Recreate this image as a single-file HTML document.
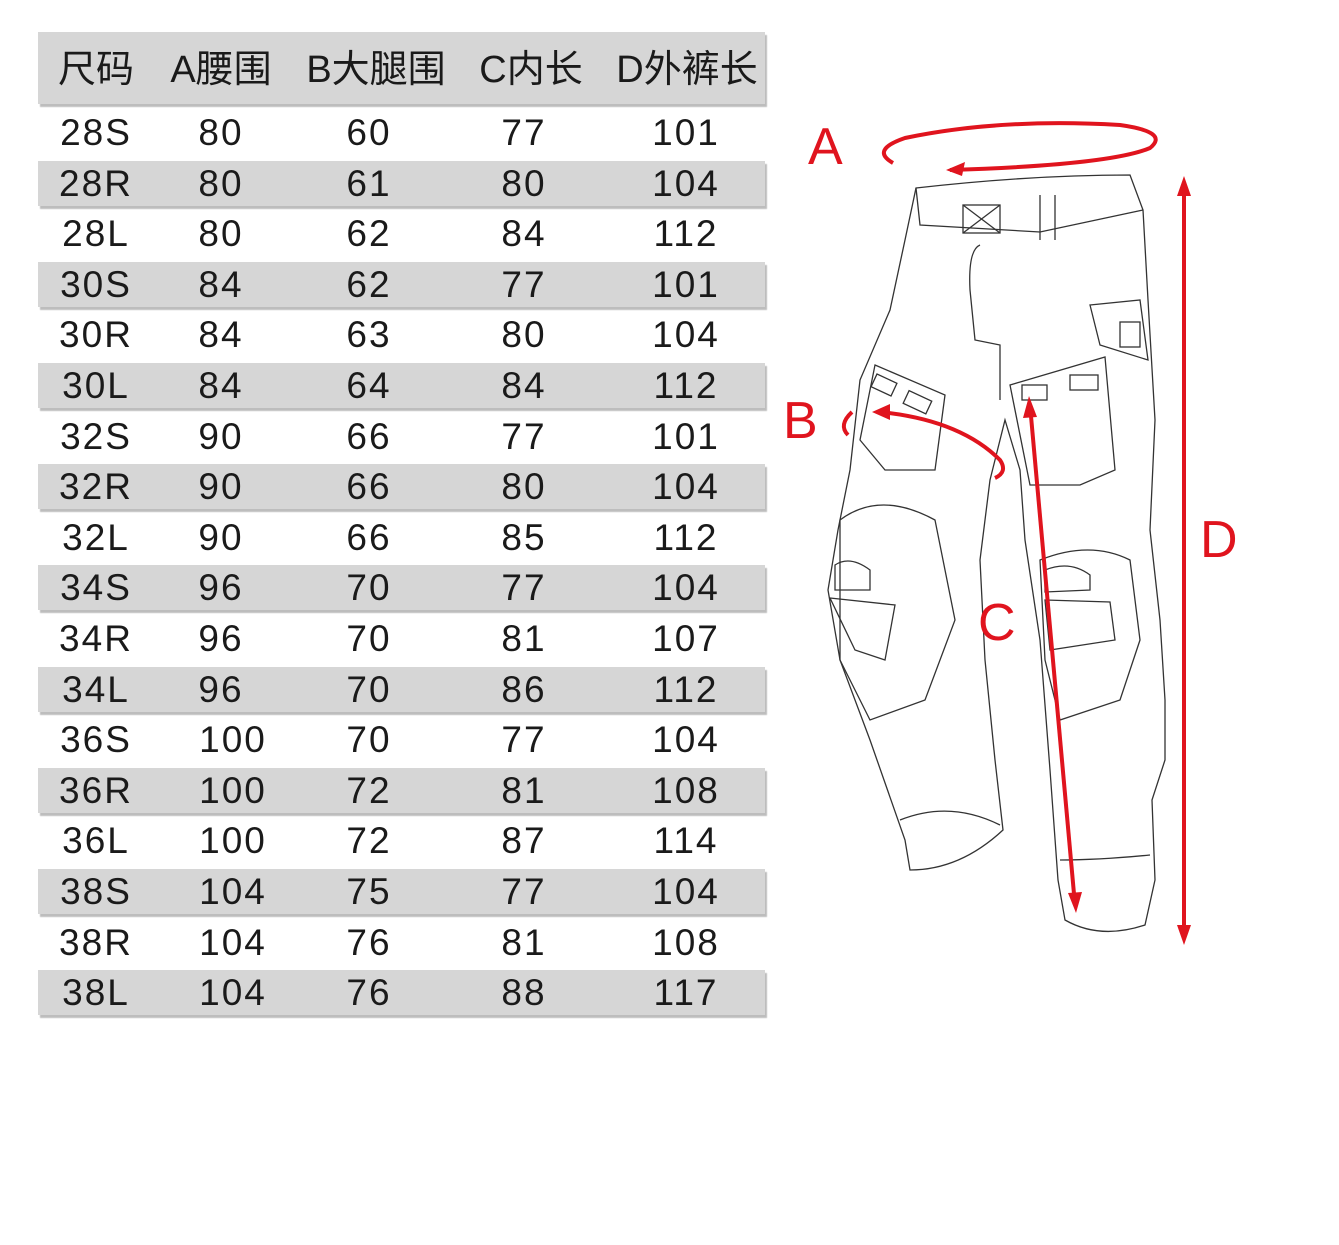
<!DOCTYPE html>
<html><head><meta charset="utf-8"><style>
body{margin:0;width:1339px;height:1245px;background:#fff;position:relative;overflow:hidden;font-family:"Liberation Sans","Noto Sans CJK SC",sans-serif;}
.bar{position:absolute;left:38px;width:727px;background:#d6d6d6;box-shadow:2px 3px 1px #bdbdbd;}
.t{position:absolute;font-size:37px;color:#1a1a1a;line-height:40px;white-space:nowrap;transform:translateX(-50%);letter-spacing:2px;margin-left:1px;}
</style></head><body>
<div class="bar" style="top:32px;height:72px"></div>
<div class="t" style="left:95px;top:50px;font-size:38px;letter-spacing:0">尺码</div>
<div class="t" style="left:220px;top:50px;font-size:38px;letter-spacing:0">A腰围</div>
<div class="t" style="left:375px;top:50px;font-size:38px;letter-spacing:0">B大腿围</div>
<div class="t" style="left:530px;top:50px;font-size:38px;letter-spacing:0">C内长</div>
<div class="t" style="left:686px;top:50px;font-size:38px;letter-spacing:0">D外裤长</div>
<div id="rows"></div>
<script>
var d=[["28S",80,60,77,101],["28R",80,61,80,104],["28L",80,62,84,112],["30S",84,62,77,101],["30R",84,63,80,104],["30L",84,64,84,112],["32S",90,66,77,101],["32R",90,66,80,104],["32L",90,66,85,112],["34S",96,70,77,104],["34R",96,70,81,107],["34L",96,70,86,112],["36S",100,70,77,104],["36R",100,72,81,108],["36L",100,72,87,114],["38S",104,75,77,104],["38R",104,76,81,108],["38L",104,76,88,117]];
var xs=[95,220,368,523,685],h="";
d.forEach(function(r,i){var c=133+i*50.6;
if(i%2)h+='<div class="bar" style="top:'+(c-23)+'px;height:45px"></div>';
r.forEach(function(v,j){h+='<div class="t" style="left:'+(j==1&&v>=100?232:xs[j])+'px;top:'+(c-20)+'px">'+v+'</div>';});});
document.getElementById("rows").innerHTML=h;
</script>
<svg style="position:absolute;left:0;top:0" width="1339" height="1245" viewBox="0 0 1339 1245">
<g fill="none" stroke="#333" stroke-width="1.3">
<path d="M916 188 Q1030 175 1130 175 L1143 210 L1148 300 L1155 420 L1150 530 L1160 620 L1165 700 L1165 760 L1152 800 L1155 880 L1145 925 Q1100 940 1065 920 L1058 880 L1050 770 L1040 640 L1025 540 L1020 470 L1005 420 L990 480 L980 560 L985 660 L995 760 L1003 830 Q960 870 910 870 L905 840 L870 740 L840 660 L828 590 L838 530 L850 470 L860 380 L890 310 L905 240 Z"/>
<path d="M916 188 L920 225 L1040 232 L1143 210"/>
<rect x="963" y="205" width="37" height="28"/><path d="M963 205 L1000 233 M1000 205 L963 233"/>
<path d="M1040 195 L1040 240 M1055 195 L1055 240"/>
<path d="M980 245 Q968 250 970 290 L975 340 L1000 345 L1000 400"/>
<path d="M1090 305 L1140 300 L1148 360 L1100 345 Z"/><rect x="1120" y="322" width="20" height="25"/>
<path d="M1010 385 L1105 357 L1115 470 L1080 485 L1030 485 Z"/>
<rect x="1022" y="385" width="25" height="15"/><rect x="1070" y="375" width="28" height="15"/>
<path d="M875 365 L945 395 L935 470 L885 470 L860 440 Z"/>
<rect x="873" y="378" width="22" height="14" transform="rotate(25 884 385)"/><rect x="905" y="395" width="25" height="14" transform="rotate(25 917 402)"/>
<path d="M840 520 Q880 490 935 520 L955 620 L925 700 L870 720 L840 660 Z"/>
<path d="M835 565 Q850 555 870 570 L870 590 L835 590 Z"/><path d="M830 598 L895 605 L885 660 L855 650 Z"/>
<path d="M1040 560 Q1090 540 1130 560 L1140 640 L1120 700 L1060 720 L1045 660 Z"/>
<path d="M1045 570 Q1070 560 1090 575 L1090 590 L1045 592 Z"/><path d="M1045 600 L1110 602 L1115 640 L1050 650 Z"/>
<path d="M900 820 Q950 800 1000 825 M1060 860 Q1100 860 1150 855"/>
</g>
<g fill="none" stroke="#e0141e" stroke-width="4">
<path d="M893 163 Q870 150 905 138 Q1000 118 1120 125 Q1170 132 1150 148 Q1110 165 950 170"/>
<path d="M1184 185 L1184 938"/>
<path d="M1030 405 L1075 905"/>
<path d="M880 412 Q960 420 1000 460 Q1008 472 995 478"/>
<path d="M852 412 Q838 425 848 435"/>
</g>
<g fill="#e0141e">
<path d="M946 170 L965 162 L962 176 Z"/>
<path d="M1184 176 L1177 196 L1191 196 Z M1184 945 L1177 925 L1191 925 Z"/>
<path d="M1029 396 L1023 418 L1037 417 Z M1076 913 L1068 893 L1082 892 Z"/>
<path d="M872 412 L890 404 L890 420 Z"/>
</g>
<g fill="#e0141e" font-family="Liberation Sans,sans-serif" font-size="52">
<text x="808" y="164">A</text><text x="783" y="438">B</text><text x="978" y="640">C</text><text x="1200" y="557">D</text>
</g>
</svg>
</body></html>
